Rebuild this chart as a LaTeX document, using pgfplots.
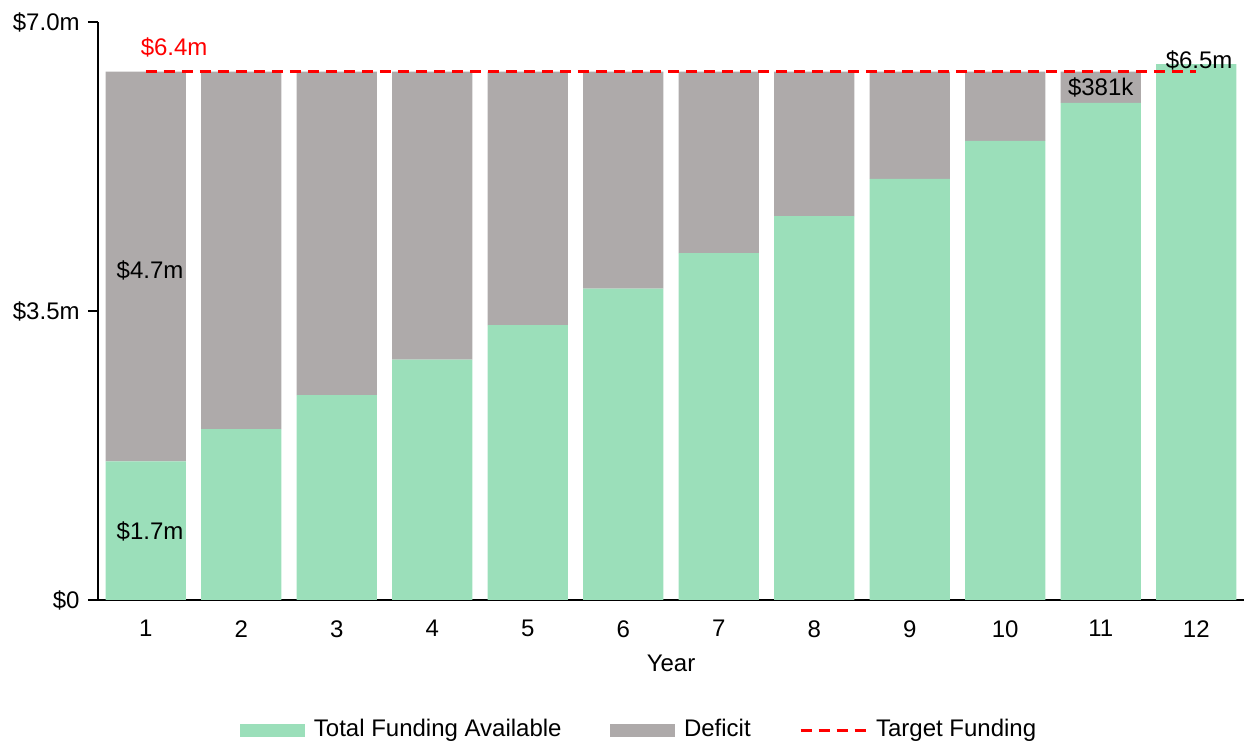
\documentclass[border=0pt]{standalone}
\usepackage{pgfplots}
\usepackage{pgfplotstable}
\pgfplotsset{compat=1.18}
\usepackage{fontspec}
\setmainfont{Liberation Sans}
\definecolor{fund}{HTML}{9BDFBA}
\definecolor{defc}{HTML}{AEAAAA}
\definecolor{tred}{HTML}{FF0000}
\pgfplotstableread{
yr fund def
1 1.68 4.72
2 2.07 4.33
3 2.48 3.92
4 2.91 3.49
5 3.33 3.07
6 3.77 2.63
7 4.20 2.20
8 4.65 1.75
9 5.10 1.30
10 5.56 0.84
11 6.019 0.381
12 6.49 0
}\data
\begin{document}
\fontsize{12}{14}\selectfont
\begin{tikzpicture}
\pgfplotsset{
 common/.style={width=573pt,height=289pt,scale only axis,
   xmin=0.5,xmax=12.5,ymin=0,ymax=7,clip=false}
}
\begin{axis}[common, name=ax,
 ybar stacked, bar width=0.84,
 axis x line*=bottom, axis y line*=left,
 axis line style={black, line width=0.75pt, -},
 ytick={0,3.5,7}, yticklabels={\$0,\$3.5m,\$7.0m},
 xtick={1,...,12}, xticklabels={1,2,3,4,5,6,7,8,9,10,11,12},
 major tick length=5pt, tick align=outside,
 ytick style={black, line width=0.75pt},
 xtick style={draw=none},
 xticklabel style={yshift=-1pt},
 tick label style={font=\fontsize{12}{14}\selectfont},
 xlabel={Year},
 xlabel style={font=\fontsize{12}{14}\selectfont, at={(axis description cs:0.5,-0.109)}, anchor=center},
 legend style={at={(axis description cs:0.4730,-0.2250)}, anchor=center,
   draw=none, font=\fontsize{12}{14}\selectfont,
   /tikz/every odd column/.append style={column sep=2.5pt},
   /tikz/every even column/.append style={column sep=22.2pt}},
 legend columns=3,
 /pgf/number format/assume math mode=true,
]
\addplot[fill=fund, draw=none,
  legend image code/.code={\fill[fund] (0pt,-3.25pt) rectangle (32.5pt,3.25pt);}]
  table[x=yr,y=fund]{\data};
\addplot[fill=defc, draw=none,
  legend image code/.code={\fill[defc] (0pt,-3.25pt) rectangle (32.5pt,3.25pt);}]
  table[x=yr,y=def]{\data};
\addlegendimage{legend image code/.code={\draw[tred, line width=1.5pt, dash pattern=on 5.5pt off 3.5pt] (0pt,0pt) -- (32.5pt,0pt);}}
\legend{Total Funding Available, Deficit, Target Funding}
\end{axis}
\begin{axis}[common, hide axis]
\addplot[tred, line width=1.5pt, dash pattern=on 5.5pt off 3.5pt]
  coordinates {(1,6.4) (12,6.4)};
\node[tred, anchor=west] at (axis cs:0.86,6.69) {\$6.4m};
\node at (axis cs:12.03,6.54) {\$6.5m};
\node at (axis cs:1.045,0.836) {\$1.7m};
\node at (axis cs:1.045,3.997) {\$4.7m};
\node at (axis cs:11.0,6.21) {\$381k};
\end{axis}
\pgfresetboundingbox
\path ([xshift=-49pt,yshift=-71.5pt]ax.south west) rectangle ([yshift=11pt]ax.north east);
\end{tikzpicture}
\end{document}
